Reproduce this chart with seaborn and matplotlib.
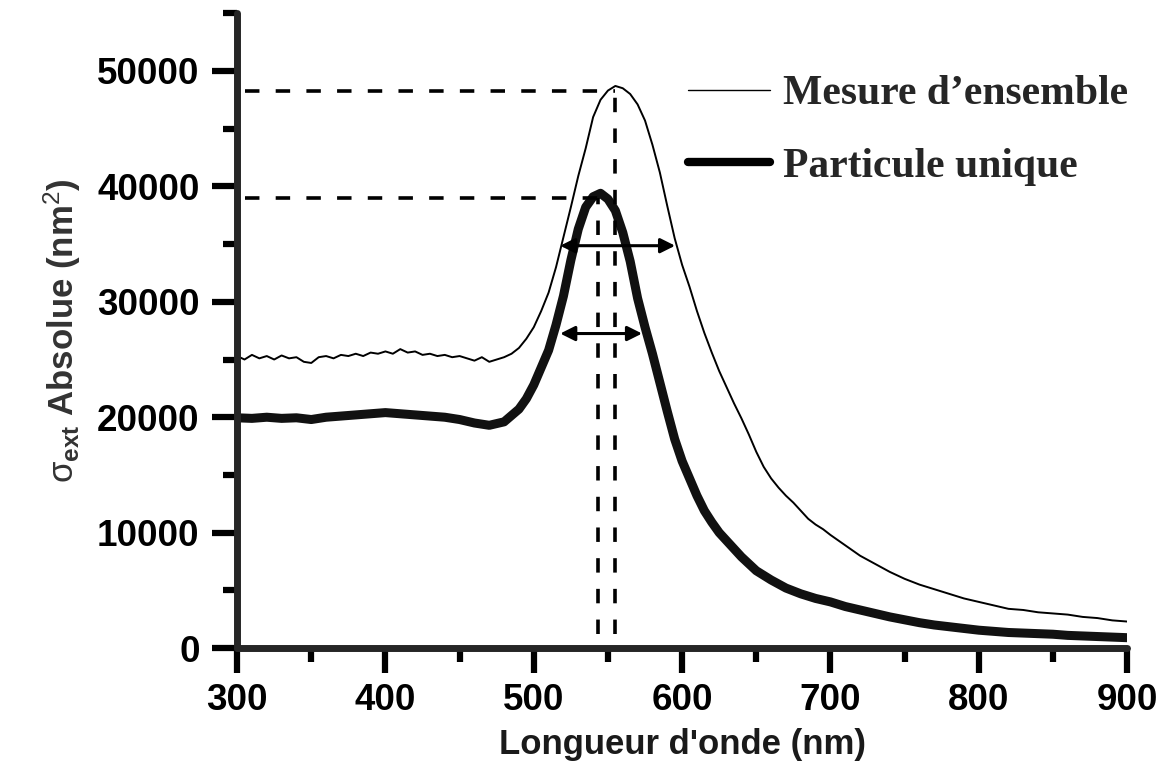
import matplotlib
matplotlib.use("Agg")
import matplotlib.pyplot as plt
from matplotlib.lines import Line2D
from matplotlib.ticker import MultipleLocator
import seaborn as sns
import pandas as pd

# ---------------- data ----------------
ens_nm = [300, 305, 310, 315, 320, 325, 330, 335, 340, 345, 350, 355, 360, 365, 370, 375,
          380, 385, 390, 395, 400, 405, 410, 415, 420, 425, 430, 435, 440, 445, 450, 455,
          460, 465, 470, 475, 480, 485, 490, 495, 500, 505, 510, 515, 520, 525, 530, 535,
          540, 545, 550, 555, 560, 565, 570, 575, 580, 585, 590, 595, 600, 605, 610, 615,
          620, 625, 630, 635, 640, 645, 650, 655, 660, 665, 670, 675, 680, 685, 690, 695,
          700, 710, 720, 730, 740, 750, 760, 770, 780, 790, 800, 810, 820, 830, 840, 850,
          860, 870, 880, 890, 900]
ens_val = [25300, 25000, 25400, 25100, 25300, 25000, 25350, 25100, 25200, 24800, 24700,
           25200, 25300, 25100, 25400, 25300, 25500, 25300, 25600, 25500, 25700, 25500,
           25900, 25600, 25700, 25400, 25500, 25300, 25400, 25200, 25300, 25100, 24900,
           25200, 24800, 25000, 25200, 25500, 26000, 26800, 27800, 29200, 30800, 33000,
           35600, 38200, 40900, 43300, 46000, 47500, 48300, 48700, 48500, 48000, 47100,
           45700, 43600, 41200, 38300, 35500, 33200, 31300, 29200, 27300, 25600, 24000,
           22600, 21200, 19900, 18500, 17000, 15700, 14700, 13900, 13200, 12600, 11900,
           11200, 10700, 10300, 9800, 8900, 8000, 7300, 6600, 6000, 5500, 5100, 4700,
           4300, 4000, 3700, 3400, 3300, 3100, 3000, 2900, 2700, 2600, 2400, 2300]

part_nm = [300, 310, 320, 330, 340, 350, 360, 370, 380, 390, 400, 410, 420, 430, 440, 450,
           460, 470, 480, 490, 495, 500, 505, 510, 515, 520, 525, 530, 535, 540, 545, 550,
           555, 560, 565, 570, 575, 580, 585, 590, 595, 600, 605, 610, 615, 620, 625, 630,
           640, 650, 660, 670, 680, 690, 700, 710, 720, 730, 740, 750, 760, 770, 780, 790,
           800, 810, 820, 830, 840, 850, 860, 870, 880, 890, 900]
part_val = [19950, 19900, 20000, 19900, 19950, 19800, 20000, 20100, 20200, 20300, 20400,
            20300, 20200, 20100, 20000, 19800, 19500, 19300, 19600, 20700, 21600, 22800,
            24300, 25800, 28000, 30500, 33600, 36300, 38200, 39100, 39400, 38900, 37900,
            36000, 33500, 30300, 27800, 25500, 23000, 20500, 18100, 16200, 14700, 13200,
            11900, 10900, 10000, 9300, 7900, 6700, 5900, 5200, 4700, 4300, 4000, 3600,
            3300, 3000, 2700, 2450, 2200, 2000, 1850, 1700, 1550, 1450, 1350, 1300, 1250,
            1200, 1100, 1050, 1000, 950, 900]

series_names = ["Mesure d\u2019ensemble", "Particule unique"]

# peak markers (nm, value) and FWHM arrows (start nm, end nm, value)
peak_nm = [555, 543.5]
peak_val = [48300, 39000]
fwhm_start = [517.8, 517.8]
fwhm_end = [595.3, 573.0]
fwhm_val = [34860, 27250]

x_ticks = [300, 400, 500, 600, 700, 800, 900]
y_ticks = [0, 10000, 20000, 30000, 40000, 50000]

# ---------------- style ----------------
sns.set_style("ticks")
plt.rcParams["font.family"] = ["Liberation Sans", "DejaVu Sans"]
plt.rcParams["mathtext.fontset"] = "custom"
plt.rcParams["mathtext.rm"] = "Liberation Sans"
plt.rcParams["mathtext.bf"] = "Liberation Sans:bold"
plt.rcParams["mathtext.it"] = "Liberation Sans:italic"

fig = plt.figure(figsize=(11.68, 7.78), dpi=100)
ax = fig.add_axes([0.203, 0.167, 0.762, 0.816])

df_ens = pd.DataFrame({"nm": ens_nm, "val": ens_val})
df_part = pd.DataFrame({"nm": part_nm, "val": part_val})

sns.lineplot(data=df_ens, x="nm", y="val", ax=ax, color="black", lw=1.4)
sns.lineplot(data=df_part, x="nm", y="val", ax=ax, color="#111111", lw=6.5)

# dashed guide lines
x_left = 305
for pn, pv in zip(peak_nm, peak_val):
    ax.plot([x_left, pn], [pv, pv], color="black", lw=2.6, ls=(0, (4, 4.5)))
    ax.plot([pn, pn], [1200, pv], color="black", lw=2.6, ls=(0, (4, 4.5)))

# FWHM double arrows
for xs, xe, v in zip(fwhm_start, fwhm_end, fwhm_val):
    ax.annotate("", xy=(xe, v), xytext=(xs, v),
                arrowprops=dict(arrowstyle="<|-|>", color="black", lw=2.2,
                                mutation_scale=22, shrinkA=0, shrinkB=0))

ax.set_xlim(300, 900)
ax.set_ylim(0, 55000)
ax.set_xticks(x_ticks)
ax.set_yticks(y_ticks)
ax.xaxis.set_minor_locator(MultipleLocator(50))
ax.yaxis.set_minor_locator(MultipleLocator(5000))

sns.despine(ax=ax)
for s in ["left", "bottom"]:
    ax.spines[s].set_linewidth(5)
    ax.spines[s].set_capstyle("round")

ax.tick_params(axis="both", which="major", length=18, width=4.5, color="black",
               labelsize=26.5, labelcolor="black")
ax.tick_params(axis="both", which="minor", length=10, width=4.5, color="black")
ax.tick_params(axis="x", which="major", pad=7)
ax.tick_params(axis="y", which="major", pad=9)
for lab in ax.get_xticklabels() + ax.get_yticklabels():
    lab.set_fontweight("bold")

ax.set_xlabel("Longueur d'onde (nm)", fontsize=25, fontweight="bold", color="#1a1a1a",
              labelpad=7)
ax.set_ylabel(r"$\mathrm{\sigma}_{\mathbf{ext}}$ Absolue (nm$^{2}$)", fontsize=25,
              fontweight="bold", color="#333333", labelpad=10)

handles = [Line2D([], [], color="black", lw=1.0),
           Line2D([], [], color="black", lw=6.0)]
leg = ax.legend(handles, series_names, loc="upper left",
                bbox_to_anchor=(688 / 1168, 1 - 75 / 778), bbox_transform=fig.transFigure,
                frameon=False, borderpad=0, borderaxespad=0, handlelength=1.97,
                handletextpad=0.31, labelspacing=0.82,
                prop={"family": "Liberation Serif", "weight": "bold", "size": 30})

fig.savefig("out.png", dpi=100)
